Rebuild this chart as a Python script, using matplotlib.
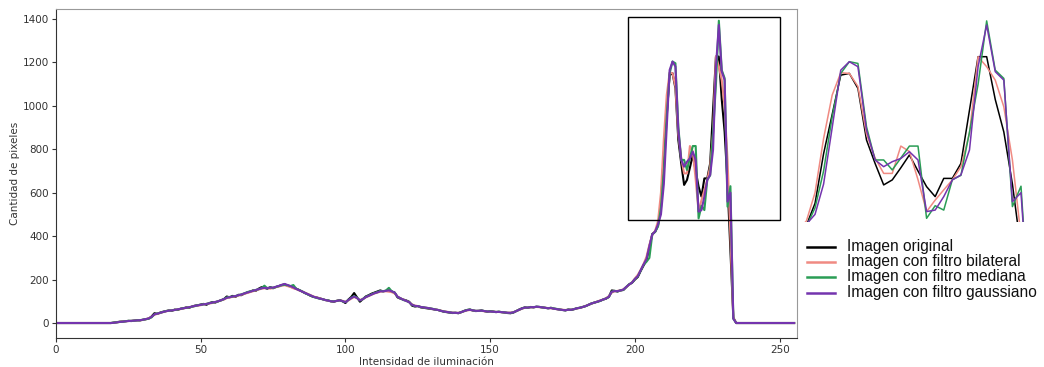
import matplotlib
matplotlib.use("Agg")
import matplotlib.pyplot as plt
from matplotlib.lines import Line2D
from matplotlib.patches import Rectangle
import numpy as np

intensity = list(range(256))

original = ([0] * 20 +
    [2, 4, 6, 7, 8, 10, 9, 11, 13, 12,
     15, 18, 20, 30, 45, 42, 48, 52, 55, 58,
     56, 62, 60, 66, 68, 72, 70, 76, 80, 82,
     85, 88, 84, 92, 96, 94, 100, 105, 110, 122,
     118, 125, 120, 130, 128, 135, 140, 144, 150, 148,
     158, 165, 162, 158, 165, 160, 166, 170, 175, 178,
     172, 168, 162, 158, 152, 145, 138, 132, 125, 120,
     118, 114, 110, 106, 104, 100, 98, 102, 106, 100,
     92, 108, 120, 138, 118, 98, 110, 122, 128, 135,
     140, 145, 150, 146, 148, 150, 145, 140, 118, 112,
     108, 104, 98, 80, 76, 78, 72, 70, 68, 66,
     64, 62, 60, 56, 52, 50, 48, 46, 47, 45,
     50, 56, 60, 62, 58, 55, 56, 58, 55, 52,
     54, 53, 50, 52, 50, 48, 46, 45, 48, 55,
     62, 68, 72, 70, 74, 72, 75, 74, 72, 70,
     68, 70, 66, 64, 62, 60, 58, 62, 60, 64,
     68, 70, 74, 78, 84, 90, 94, 98, 102, 108,
     112, 120, 150, 148, 145, 150, 152, 165, 178, 185,
     200, 212, 240, 265, 290, 350, 410, 420, 450, 551,
     780, 960, 1142, 1150, 1081, 843, 735, 636, 659, 715,
     774, 700, 628, 582, 666, 666, 735, 980, 1227, 1227,
     1030, 880, 640, 336, 25, 0] + [0] * 20)

bilateral = ([0] * 20 +
    [1, 3, 5, 7, 8, 9, 10, 11, 12, 13,
     14, 17, 22, 28, 38, 42, 46, 50, 54, 57,
     58, 60, 62, 64, 67, 70, 72, 75, 78, 80,
     82, 86, 88, 90, 92, 96, 100, 104, 108, 115,
     118, 120, 122, 126, 130, 134, 138, 142, 146, 150,
     154, 158, 160, 162, 158, 162, 165, 168, 172, 174,
     170, 166, 160, 156, 150, 146, 140, 134, 128, 122,
     118, 114, 110, 106, 103, 100, 100, 102, 104, 102,
     98, 104, 112, 120, 114, 106, 110, 118, 124, 130,
     136, 140, 144, 146, 146, 144, 142, 136, 122, 114,
     108, 102, 96, 86, 80, 78, 74, 72, 70, 68,
     65, 62, 60, 57, 54, 52, 50, 48, 47, 47,
     50, 54, 58, 60, 58, 56, 56, 56, 54, 53,
     53, 52, 51, 51, 50, 49, 48, 48, 50, 55,
     60, 66, 70, 71, 72, 73, 74, 73, 72, 70,
     69, 68, 66, 64, 62, 61, 60, 61, 62, 64,
     67, 70, 74, 79, 84, 89, 94, 99, 104, 108,
     114, 124, 140, 146, 148, 150, 155, 166, 176, 188,
     205, 222, 245, 272, 305, 360, 405, 425, 470, 600,
     850, 1050, 1153, 1150, 1090, 870, 760, 689, 689, 815,
     790, 660, 513, 566, 613, 659, 720, 874, 1227, 1181,
     1119, 996, 751, 400, 25, 0] + [0] * 20)

mediana = ([0] * 20 +
    [2, 3, 5, 6, 8, 10, 10, 11, 12, 13,
     15, 17, 20, 26, 40, 44, 47, 51, 55, 57,
     58, 60, 62, 65, 68, 70, 72, 75, 78, 82,
     84, 86, 88, 92, 94, 96, 100, 104, 110, 118,
     120, 122, 124, 128, 132, 136, 142, 146, 148, 152,
     156, 160, 172, 160, 164, 162, 166, 170, 174, 176,
     174, 170, 175, 158, 152, 146, 138, 132, 126, 120,
     116, 112, 110, 106, 104, 100, 100, 102, 104, 100,
     96, 106, 116, 124, 116, 104, 110, 120, 126, 132,
     138, 142, 148, 146, 150, 162, 146, 140, 120, 114,
     106, 102, 96, 84, 78, 78, 74, 72, 70, 68,
     66, 62, 60, 56, 53, 51, 49, 47, 47, 46,
     50, 55, 60, 62, 58, 56, 56, 57, 55, 53,
     54, 52, 51, 52, 50, 49, 47, 46, 49, 55,
     61, 67, 71, 71, 73, 73, 75, 74, 72, 70,
     68, 70, 67, 65, 62, 60, 59, 62, 61, 64,
     68, 71, 74, 78, 84, 90, 94, 98, 102, 108,
     113, 120, 145, 148, 146, 150, 153, 166, 178, 186,
     202, 215, 242, 268, 282, 300, 408, 420, 445, 530,
     700, 950, 1150, 1204, 1196, 904, 751, 751, 705, 760,
     815, 815, 482, 540, 520, 660, 680, 880, 1100, 1392,
     1165, 1127, 536, 630, 20, 0] + [0] * 20)

gaussiano = ([0] * 20 +
    [1, 3, 5, 6, 8, 9, 10, 11, 12, 13,
     15, 18, 21, 28, 40, 43, 47, 51, 54, 57,
     58, 60, 63, 65, 68, 70, 73, 76, 79, 81,
     84, 86, 88, 91, 94, 97, 100, 105, 110, 116,
     119, 122, 124, 128, 131, 136, 140, 144, 148, 152,
     156, 160, 162, 160, 163, 163, 167, 171, 176, 180,
     175, 170, 164, 157, 151, 145, 139, 133, 127, 121,
     117, 113, 110, 106, 103, 100, 99, 102, 104, 101,
     96, 106, 115, 122, 115, 104, 110, 119, 125, 131,
     137, 141, 146, 146, 148, 150, 146, 140, 121, 114,
     107, 102, 96, 84, 79, 78, 74, 72, 70, 68,
     65, 62, 60, 56, 53, 51, 49, 47, 47, 46,
     50, 55, 59, 61, 58, 56, 56, 57, 55, 53,
     53, 52, 51, 51, 50, 49, 47, 47, 49, 55,
     61, 67, 71, 71, 73, 73, 75, 74, 72, 70,
     68, 69, 66, 64, 62, 60, 59, 61, 61, 64,
     68, 70, 74, 78, 84, 90, 94, 98, 103, 108,
     113, 121, 144, 147, 147, 150, 154, 166, 177, 186,
     203, 216, 243, 270, 295, 355, 408, 422, 455, 500,
     640, 900, 1165, 1204, 1181, 889, 751, 720, 743, 758,
     789, 751, 513, 520, 582, 659, 682, 797, 1181, 1373,
     1158, 1119, 559, 600, 20, 0] + [0] * 20)

series = [original, bilateral, mediana, gaussiano]
labels = ["Imagen original", "Imagen con filtro bilateral",
          "Imagen con filtro mediana", "Imagen con filtro gaussiano"]
colors = ["#000000", "#f08a82", "#2a9d55", "#7434ae"]

xticks = [0, 50, 100, 150, 200, 250]
yticks = [0, 200, 400, 600, 800, 1000, 1200, 1400]

W, H = 1044, 367
fig = plt.figure(figsize=(W / 100, H / 100), dpi=100)

def fr(l, t, r, b):
    return [l / W, 1 - b / H, (r - l) / W, (b - t) / H]

ax = fig.add_axes(fr(56, 9, 797, 338))
for s, c in zip(series, colors):
    ax.plot(intensity, s, color=c, lw=1.5)
ax.set_xlim(0, 256)
ax.set_ylim(-69, 1446)
ax.set_xticks(xticks)
ax.set_yticks(yticks)
ax.tick_params(labelsize=7.5, colors="#333333", length=3, width=0.8, pad=1.8)
for sp in ["left", "bottom"]:
    ax.spines[sp].set_color("#333333")
for sp in ["top", "right"]:
    ax.spines[sp].set_color("#999999")
ax.set_xlabel("Intensidad de iluminación", fontsize=7.5, color="#333333", labelpad=1.5)
ax.set_ylabel("Cantidad de pixeles", fontsize=7.5, color="#333333", labelpad=2)
ax.add_patch(Rectangle((197.5, 473), 250.0 - 197.5, 1408 - 473,
                       fill=False, edgecolor="black", lw=1.0, zorder=5))

ins = fig.add_axes(fr(803, 17, 1027, 222))
for s, c in zip(series, colors):
    ins.plot(intensity, s, color=c, lw=1.1)
ins.set_xlim(207.6, 233.7)
ins.set_ylim(465, 1410)
ins.axis("off")

rows_y = [246.5, 261.5, 277, 293]
for y, lab, c in zip(rows_y, labels, colors):
    fig.add_artist(Line2D([807 / W, 835 / W], [1 - y / H, 1 - y / H],
                          color=c, lw=1.8))
    fig.text(847 / W, 1 - y / H, lab, fontsize=11.2, family="Liberation Sans",
             va="center", ha="left", color="#111111")

fig.savefig("out.png", dpi=100)
